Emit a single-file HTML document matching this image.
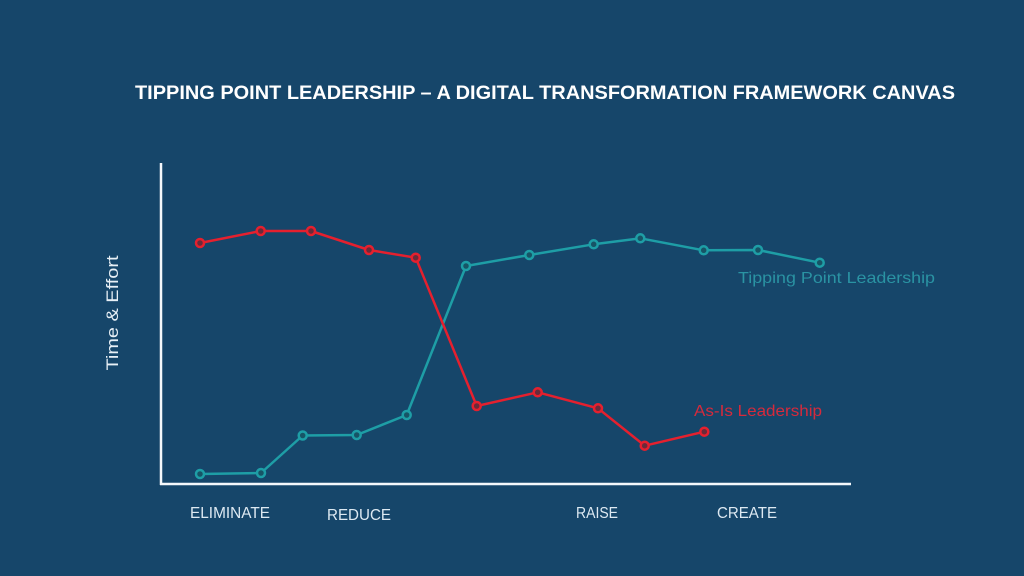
<!DOCTYPE html>
<html><head><meta charset="utf-8"><style>
html,body{margin:0;padding:0;background:#16466a;}
svg{display:block}
</style></head><body>
<svg width="1024" height="576" viewBox="0 0 1024 576" xmlns="http://www.w3.org/2000/svg">
<rect width="1024" height="576" fill="#16466a"/>
<text x="135" y="99" font-family="Liberation Sans, sans-serif" font-weight="bold" font-size="19.5" fill="#ffffff" textLength="820" lengthAdjust="spacingAndGlyphs">TIPPING POINT LEADERSHIP – A DIGITAL TRANSFORMATION FRAMEWORK CANVAS</text>
<line x1="161" y1="163" x2="161" y2="485" stroke="#f4f8fb" stroke-width="2.5"/>
<line x1="160" y1="484" x2="851" y2="484" stroke="#f4f8fb" stroke-width="2.5"/>
<text transform="translate(118,313) rotate(-90)" text-anchor="middle" font-family="Liberation Sans, sans-serif" font-size="17" fill="#e8f0f6" textLength="115" lengthAdjust="spacingAndGlyphs">Time &amp; Effort</text>
<g font-family="Liberation Sans, sans-serif" font-size="16" fill="#dde9f2">
<text x="190" y="518" textLength="80" lengthAdjust="spacingAndGlyphs">ELIMINATE</text>
<text x="327" y="520" textLength="64" lengthAdjust="spacingAndGlyphs">REDUCE</text>
<text x="576" y="518" textLength="42" lengthAdjust="spacingAndGlyphs">RAISE</text>
<text x="717" y="518" textLength="60" lengthAdjust="spacingAndGlyphs">CREATE</text>
</g>
<text x="738" y="283" font-family="Liberation Sans, sans-serif" font-size="16" fill="#2a93a3" textLength="197" lengthAdjust="spacingAndGlyphs">Tipping  Point  Leadership</text>
<text x="694" y="416" font-family="Liberation Sans, sans-serif" font-size="16" fill="#d62a3c" textLength="128" lengthAdjust="spacingAndGlyphs">As-Is Leadership</text>
<polyline fill="none" stroke="#1e9ea6" stroke-width="2.5" stroke-linejoin="round" points="200,474 261,473 302.7,435.5 356.7,435 406.7,415 466,266 529.3,255 593.7,244.3 640.3,238.3 703.7,250.3 758,250 819.7,262.7"/>
<g fill="#175466" stroke="#1e9ea6" stroke-width="2.5">
<circle cx="200" cy="474" r="4"/><circle cx="261" cy="473" r="4"/><circle cx="302.7" cy="435.5" r="4"/><circle cx="356.7" cy="435" r="4"/><circle cx="406.7" cy="415" r="4"/><circle cx="466" cy="266" r="4"/><circle cx="529.3" cy="255" r="4"/><circle cx="593.7" cy="244.3" r="4"/><circle cx="640.3" cy="238.3" r="4"/><circle cx="703.7" cy="250.3" r="4"/><circle cx="758" cy="250" r="4"/><circle cx="819.7" cy="262.7" r="4"/>
</g>
<polyline fill="none" stroke="#e5202e" stroke-width="2.5" stroke-linejoin="round" points="200,243 260.7,231 311,231 369,250 415.7,257.7 476.7,406 537.7,392.3 598,408.3 644.7,445.7 704.3,431.7"/>
<g fill="#6a2a3a" stroke="#e5202e" stroke-width="2.5">
<circle cx="200" cy="243" r="4"/><circle cx="260.7" cy="231" r="4"/><circle cx="311" cy="231" r="4"/><circle cx="369" cy="250" r="4"/><circle cx="415.7" cy="257.7" r="4"/><circle cx="476.7" cy="406" r="4"/><circle cx="537.7" cy="392.3" r="4"/><circle cx="598" cy="408.3" r="4"/><circle cx="644.7" cy="445.7" r="4"/><circle cx="704.3" cy="431.7" r="4"/>
</g>
</svg>
</body></html>
